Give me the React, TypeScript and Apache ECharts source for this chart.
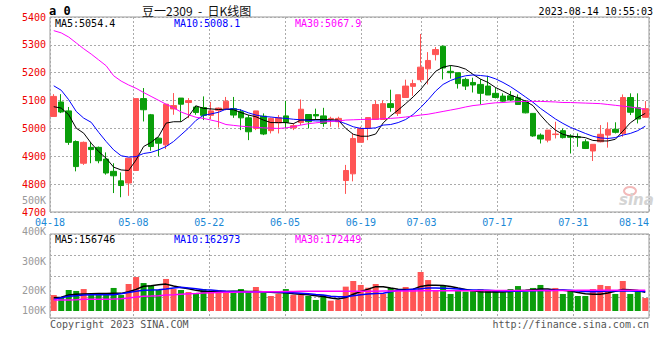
import React, { useEffect, useRef } from 'react';
import * as echarts from 'echarts';

const dates = [
  '04-18','04-19','04-20','04-21','04-24','04-25','04-26','04-27','04-28',
  '05-04','05-05','05-08','05-09','05-10','05-11','05-12','05-15','05-16','05-17','05-18','05-19',
  '05-22','05-23','05-24','05-25','05-26','05-29','05-30','05-31',
  '06-01','06-02','06-05','06-06','06-07','06-08','06-09','06-12','06-13','06-14','06-15','06-16',
  '06-19','06-20','06-21','06-26','06-27','06-28','06-29','06-30',
  '07-03','07-04','07-05','07-06','07-07','07-10','07-11','07-12','07-13','07-14',
  '07-17','07-18','07-19','07-20','07-21','07-24','07-25','07-26','07-27','07-28','07-31',
  '08-01','08-02','08-03','08-04','08-07','08-08','08-09','08-10','08-11','08-14',
];
const labelDates = ['04-18','05-08','05-22','06-05','06-19','07-03','07-17','07-31','08-14'];

const opens = [5043,5095,5063,4953,4875,4932,4932,4890,4846,4812,4804,4849,5107,5049,4965,4941,5070,5109,5093,5077,
  5075,5047,5065,5071,5071,5060,5038,5000,5044,4992,5020,5045,5002,5021,5050,5050,5045,5033,5024,4813,
  4837,4950,5000,5032,5032,5089,5054,5111,5151,5175,5214,5265,5295,5205,5200,5176,5165,5158,5152,5126,
  5116,5117,5110,5098,5054,4976,4958,4978,4992,4973,4970,4952,4919,4952,4976,4997,4982,5111,5074,5040];
const closes = [5115,5059,4950,4863,4950,4924,4884,4840,4830,4795,4893,5107,5067,4935,4947,5087,5082,5087,5100,5057,
  5047,5063,5073,5098,5048,5038,4988,5063,4980,5036,5038,5021,5010,5069,5024,5045,5018,5036,5036,4849,
  4964,5000,5039,5086,5089,5075,5121,5152,5161,5220,5244,5283,5217,5200,5161,5152,5156,5126,5120,5111,
  5098,5102,5086,5056,4973,4962,4994,4980,4967,4968,4967,4928,4943,4979,4997,4986,5111,5058,5034,5071];
const lows = [5043,5055,4941,4846,4869,4875,4875,4834,4768,4753,4758,4849,5025,4920,4900,4926,5049,5025,5037,5049,
  5030,5033,5003,5065,5038,4994,4958,4994,4976,4982,4982,5000,4994,5012,5000,5030,5006,5006,5003,4765,
  4810,4950,4958,5032,5032,5060,5045,5111,5117,5167,5158,5244,5176,5179,5143,5138,5129,5086,5120,5108,
  5096,5098,5086,5054,4970,4946,4950,4964,4964,4910,4934,4926,4883,4950,4931,4982,4970,5048,5018,5038];
const highs = [5123,5123,5077,4957,4953,4951,4935,4914,4875,4842,4893,5107,5145,5052,4968,5087,5127,5109,5109,5082,
  5115,5095,5075,5113,5113,5069,5048,5063,5054,5039,5048,5099,5018,5104,5050,5071,5074,5042,5042,4869,
  4982,5006,5039,5101,5101,5139,5121,5175,5175,5339,5274,5292,5298,5226,5200,5182,5182,5177,5189,5146,
  5126,5134,5122,5102,5054,4982,4994,5024,5000,4979,4982,4961,4943,5012,5022,5022,5122,5126,5126,5098];

const ma5 = [5078,5073,5049,5001,4983,4947,4917,4893,4861,4851,4849,4887,4935,4950,4971,5019,5024,5024,5043,5081,
  5072,5070,5068,5069,5067,5057,5048,5042,5030,5021,5021,5021,5017,5030,5031,5032,5032,5031,5030,5000,
  4979,4972,4972,4980,5020,5045,5066,5089,5113,5140,5173,5205,5220,5226,5222,5213,5194,5177,5165,5147,
  5134,5120,5110,5098,5082,5048,5018,4994,4979,4972,4970,4967,4957,4955,4955,4961,4990,5020,5039,5054];
const ma10 = [5153,5137,5103,5061,5037,5022,4986,4953,4923,4902,4897,4899,4910,4914,4923,4935,4953,4977,5001,5029,
  5047,5052,5058,5069,5071,5066,5056,5048,5043,5041,5038,5036,5033,5031,5029,5027,5027,5027,5026,5017,
  5006,5000,5000,5002,5012,5014,5021,5032,5050,5075,5103,5134,5158,5172,5182,5189,5192,5190,5187,5178,
  5165,5150,5132,5113,5094,5072,5053,5034,5018,5004,4993,4982,4972,4966,4964,4967,4976,4982,4992,5008];
const ma30 = [5351,5343,5328,5307,5286,5267,5246,5225,5189,5170,5156,5144,5129,5115,5101,5087,5074,5059,5049,5040,
  5036,5030,5024,5014,5011,5008,5006,5004,5002,5001,5000,5002,5006,5012,5017,5020,5023,5025,5027,5030,
  5031,5032,5033,5033,5035,5036,5038,5041,5044,5048,5051,5056,5061,5066,5071,5077,5082,5085,5089,5092,
  5093,5095,5096,5097,5097,5097,5096,5095,5093,5093,5092,5091,5090,5089,5086,5083,5080,5077,5073,5068];

// volumes in thousands of lots
const volumes = [133,114,175,167,183,133,133,133,192,133,225,283,233,214,175,267,183,175,158,147,
  183,167,175,167,158,183,158,200,153,125,142,183,133,133,125,92,133,86,92,203,
  250,217,194,225,142,192,175,200,175,325,258,167,208,142,175,161,167,181,167,167,
  156,183,208,161,192,217,175,192,142,167,125,125,183,217,208,142,250,142,161,108];
const volMa5 = [111,114,133,139,142,144,146,145,148,147,161,180,206,210,218,224,208,196,185,172,
  163,162,162,163,164,164,162,163,160,157,153,152,143,139,136,128,120,108,100,112,
  140,162,182,203,203,192,182,180,182,205,215,215,212,205,192,180,168,160,158,160,
  158,163,168,172,178,183,183,176,172,167,155,144,140,140,150,165,180,178,170,157];
const volMa10 = [97,111,122,128,133,136,136,136,136,144,155,165,172,174,177,183,192,197,192,185,
  178,174,168,165,163,160,158,160,161,160,158,155,152,148,144,138,133,122,118,118,
  127,135,142,145,148,160,172,176,181,186,192,192,190,188,183,177,175,174,172,169,
  167,165,164,167,169,170,170,172,174,172,167,162,161,163,166,167,168,166,165,163];
const volMa30 = [92,92,92,94,97,97,97,98,100,103,108,117,123,125,128,133,136,140,143,146,
  150,153,155,156,157,158,158,159,160,161,161,162,163,164,164,164,164,164,164,164,
  164,165,165,165,166,166,167,167,167,168,168,168,169,169,169,169,169,170,170,170,
  170,170,170,171,171,171,171,171,171,171,172,172,172,172,172,172,172,172,172,172];

const priceMaLast = ['5054.4', '5008.1', '5067.9'];
const volMaLast = ['156746', '162973', '172449'];
const volTickLabels = ['500K', '400K', '300K', '200K', '100K'];
const titleText = '豆一2309  -  日K线图';
const timeText = '2023-08-14 10:55:03';

const MONO = '"DejaVu Sans Mono", monospace';
const UP = '#ff5555';
const DOWN = '#0a9e0a';
const GRIDC = '#aaaaaa';
const maColors = ['#000000', '#0000ff', '#ff00ff'];

export default function App() {
  const ref = useRef<HTMLDivElement>(null);
  useEffect(() => {
    const chart = echarts.init(ref.current as HTMLDivElement, null, { renderer: 'svg' });
    const isLabel = (_i: number, v: string) => labelDates.indexOf(v) >= 0;
    const dotted = { show: true, interval: isLabel, lineStyle: { type: [2, 2], color: GRIDC, width: 1 } };
    const volLabelY = [200, 231, 261, 290, 310];
    const maXs = [55, 174, 295];
    const txt = (text: string, x: number, y: number, fill: string, font: string, align = 'left') => ({
      type: 'text', x, y, z: 100, silent: true,
      style: { text, fill, font, textAlign: align, textVerticalAlign: 'middle' },
    });
    const graphics: any[] = [
      txt('a 0', 49, 11, '#000', `bold 12px ${MONO}`),
      txt(titleText, 142, 10, '#111', '12px "Noto Sans CJK SC", sans-serif'),
      txt(timeText, 653, 11, '#000', `10px ${MONO}`, 'right'),
      ...priceMaLast.map((v, k) => txt(`MA${[5, 10, 30][k]}:${v}`, maXs[k], 23, maColors[k], `10px ${MONO}`)),
      ...volMaLast.map((v, k) => txt(`MA${[5, 10, 30][k]}:${v}`, maXs[k], 239, maColors[k], `10px ${MONO}`)),
      ...volTickLabels.map((v, k) => txt(v, 46, volLabelY[k], '#999', `10px ${MONO}`, 'right')),
      txt('Copyright 2023 SINA.COM', 50, 324, '#555', `10px ${MONO}`),
      txt('http://finance.sina.com.cn', 649, 324, '#555', `10px ${MONO}`, 'right'),
      { type: 'ellipse', z: 90, silent: true, shape: { cx: 630, cy: 191, rx: 6, ry: 4 }, style: { fill: 'none', stroke: '#f3b9b9', lineWidth: 2 } },
      txt('sina', 619, 200, '#d4d4d4', 'bold italic 15px "DejaVu Sans", sans-serif'),
    ];

    const option: any = {
      animation: false,
      backgroundColor: '#ffffff',
      grid: [
        { left: 50, top: 17, width: 599, height: 195, show: true, borderColor: '#999', borderWidth: 1 },
        { left: 50, top: 234, width: 599, height: 84, show: true, borderColor: '#999', borderWidth: 1 },
      ],
      xAxis: [
        { type: 'category', gridIndex: 0, data: dates, boundaryGap: true, show: false },
        {
          type: 'category', gridIndex: 0, data: dates, boundaryGap: false, position: 'bottom',
          axisLine: { show: false }, axisTick: { show: false },
          axisLabel: { interval: isLabel, color: '#1a88d6', fontFamily: MONO, fontSize: 10, margin: 5, alignMaxLabel: 'right' },
          splitLine: dotted,
        },
        { type: 'category', gridIndex: 1, data: dates, boundaryGap: true, show: false },
        {
          type: 'category', gridIndex: 1, data: dates, boundaryGap: false,
          axisLine: { show: false }, axisTick: { show: false }, axisLabel: { show: false },
          splitLine: dotted,
        },
      ],
      yAxis: [
        {
          type: 'value', gridIndex: 0, min: 4700, max: 5400, interval: 100,
          axisLine: { show: false }, axisTick: { show: false },
          axisLabel: { color: '#ee0000', fontFamily: MONO, fontSize: 10, margin: 4, formatter: (v: number) => String(v) },
          splitLine: { show: true, lineStyle: { type: [2, 2], color: GRIDC } },
        },
        { type: 'value', gridIndex: 1, min: -58.33, max: 641.67, show: false },
        {
          type: 'value', gridIndex: 1, min: 0, max: 4, interval: 1,
          axisLine: { show: false }, axisTick: { show: false }, axisLabel: { show: false },
          splitLine: { show: true, lineStyle: { type: [2, 2], color: GRIDC } },
        },
      ],
      graphic: graphics,
      series: [
        {
          type: 'candlestick', xAxisIndex: 0, yAxisIndex: 0, barWidth: 6,
          data: dates.map((_, i) => [opens[i], closes[i], lows[i], highs[i]]),
          itemStyle: { color: UP, color0: DOWN, borderColor: UP, borderColor0: DOWN, borderWidth: 1 },
        },
        ...[ma5, ma10, ma30].map((d, k) => ({
          type: 'line', xAxisIndex: 0, yAxisIndex: 0, data: d, symbol: 'none', silent: true,
          lineStyle: { color: maColors[k], width: 1 },
        })),
        {
          type: 'bar', xAxisIndex: 2, yAxisIndex: 1, barWidth: 6,
          data: volumes.map((v, i) => ({ value: v, itemStyle: { color: closes[i] > opens[i] ? UP : DOWN } })),
        },
        ...[volMa5, volMa10, volMa30].map((d, k) => ({
          type: 'line', xAxisIndex: 2, yAxisIndex: 1, data: d, symbol: 'none', silent: true,
          lineStyle: { color: maColors[k], width: 1.5 },
        })),
      ],
    };
    chart.setOption(option);
    return () => chart.dispose();
  }, []);
  return (
    <div
      ref={ref}
      style={{ position: 'fixed', left: 0, top: 0, width: 660, height: 360, background: '#fff' }}
    />
  );
}
